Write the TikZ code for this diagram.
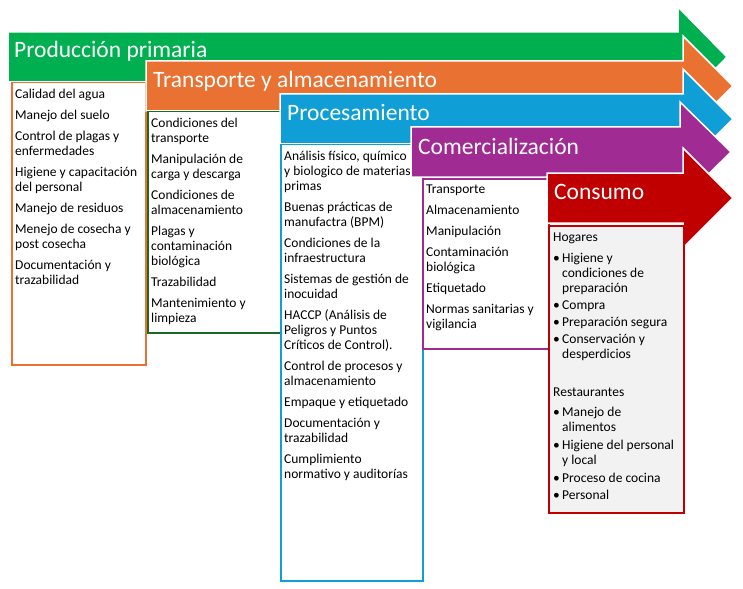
\documentclass[tikz,border=0pt]{standalone}
\usepackage{fontspec}
\setmainfont{Carlito}
\usetikzlibrary{positioning}
\definecolor{etVerde}{HTML}{00B050}
\definecolor{etNaranja}{HTML}{E97132}
\definecolor{etAzul}{HTML}{0F9ED5}
\definecolor{etMorado}{HTML}{A02B93}
\definecolor{etRojo}{HTML}{C00000}
\definecolor{etVerdeOsc}{HTML}{196B24}
\definecolor{etGris}{HTML}{F2F2F2}
\newcommand{\vin}{\makebox[9pt][l]{\textbullet}}
\newcommand{\sang}{\hspace*{9pt}}

\begin{document}
\begin{tikzpicture}[x=1pt, y=-1pt,
      flecha/.style={fill=#1, draw=white, line width=1.5pt},
      ttl/.style={anchor=base west, inner sep=0, text=white, font=\fontsize{23.5}{28}\selectfont},
      caja/.style={draw=#1, line width=1.5pt, fill=white, anchor=north west, inner sep=0},
      lst/.style={inner sep=0, align=left, font=\fontsize{13.5}{15}\selectfont}]
    \useasboundingbox[fill=white] (0,0) rectangle (743,588);
    % Produccion primaria
    \path[flecha=etVerde] (8,32) -- (678,32) -- (678,7) -- (727,57) -- (678,107) -- (678,82) -- (8,82) -- cycle;
    \node[ttl] (t1) at (14,58) {Producción primaria};
    \node[caja=etNaranja, minimum width=134, minimum height=282] (b1) at (11,82) {};
    \node[lst, below right=7pt and 4pt of b1.north west] (l1) {Calidad del agua\\[6pt]
      Manejo del suelo\\[6pt]
      Control de plagas y\\ enfermedades\\[6pt]
      Higiene y capacitación\\ del personal\\[6pt]
      Manejo de residuos\\[6pt]
      Menejo de cosecha y\\ post cosecha\\[6pt]
      Documentación y\\ trazabilidad};
    % Transporte y almacenamiento
    \path[flecha=etNaranja] (146,61) -- (683,61) -- (683,36) -- (733,86) -- (683,136) -- (683,111) -- (146,111) -- cycle;
    \node[ttl] (t2) at (153,88) {Transporte y almacenamiento};
    \node[caja=etVerdeOsc, minimum width=135, minimum height=221] (b2) at (147,111) {};
    \node[lst, below right=7pt and 4pt of b2.north west] (l2) {Condiciones del\\ transporte\\[6pt]
      Manipulación de\\ carga y descarga\\[6pt]
      Condiciones de\\ almacenamiento\\[6pt]
      Plagas y\\ contaminación\\ biológica\\[6pt]
      Trazabilidad\\[6pt]
      Mantenimiento y\\ limpieza};
    % Procesamiento
    \path[flecha=etAzul] (280,94) -- (683,94) -- (683,69) -- (733,119) -- (683,169) -- (683,144) -- (280,144) -- cycle;
    \node[ttl] (t3) at (287,121) {Procesamiento};
    \node[caja=etAzul, minimum width=142, minimum height=436] (b3) at (280,144) {};
    \node[lst, below right=7pt and 4pt of b3.north west] (l3) {Análisis físico, químico\\ y biologico de materias\\ primas\\[6pt]
      Buenas prácticas de\\ manufactra (BPM)\\[6pt]
      Condiciones de la\\ infraestructura\\[6pt]
      Sistemas de gestión de\\ inocuidad\\[6pt]
      HACCP (Análisis de\\ Peligros y Puntos\\ Críticos de Control).\\[6pt]
      Control de procesos y\\ almacenamiento\\[6pt]
      Empaque y etiquetado\\[6pt]
      Documentación y\\ trazabilidad\\[6pt]
      Cumplimiento\\ normativo y auditorías};
    % Comercializacion
    \path[flecha=etMorado] (411,127) -- (680,127) -- (680,102) -- (731,152) -- (680,202) -- (680,177) -- (411,177) -- cycle;
    \node[ttl] (t4) at (418,154) {Comercialización};
    \node[caja=etMorado, minimum width=126, minimum height=170] (b4) at (422,178) {};
    \node[lst, below right=7pt and 4pt of b4.north west] (l4) {Transporte\\[6pt]
      Almacenamiento\\[6pt]
      Manipulación\\[6pt]
      Contaminación\\ biológica\\[6pt]
      Etiquetado\\[6pt]
      Normas sanitarias y\\ vigilancia};
    % Consumo
    \path[flecha=etRojo] (547,173) -- (683,173) -- (683,148) -- (733,198) -- (683,248) -- (683,223) -- (547,223) -- cycle;
    \node[ttl] (t5) at (554,199) {Consumo};
    \node[caja=etRojo, fill=etGris, minimum width=135, minimum height=287] (b5) at (548,225) {};
    \node[lst, below right=8pt and 5pt of b5.north west] (l5) {Hogares\\[6pt]
      \vin Higiene y\\ \sang condiciones de\\ \sang preparación\\[2pt]
      \vin Compra\\[2pt]
      \vin Preparación segura\\[2pt]
      \vin Conservación y\\ \sang desperdicios\\[23pt]
      Restaurantes\\[5pt]
      \vin Manejo de\\ \sang alimentos\\[3pt]
      \vin Higiene del personal\\ \sang y local\\[3pt]
      \vin Proceso de cocina\\[2pt]
      \vin Personal};
  \end{tikzpicture}
\end{document}
